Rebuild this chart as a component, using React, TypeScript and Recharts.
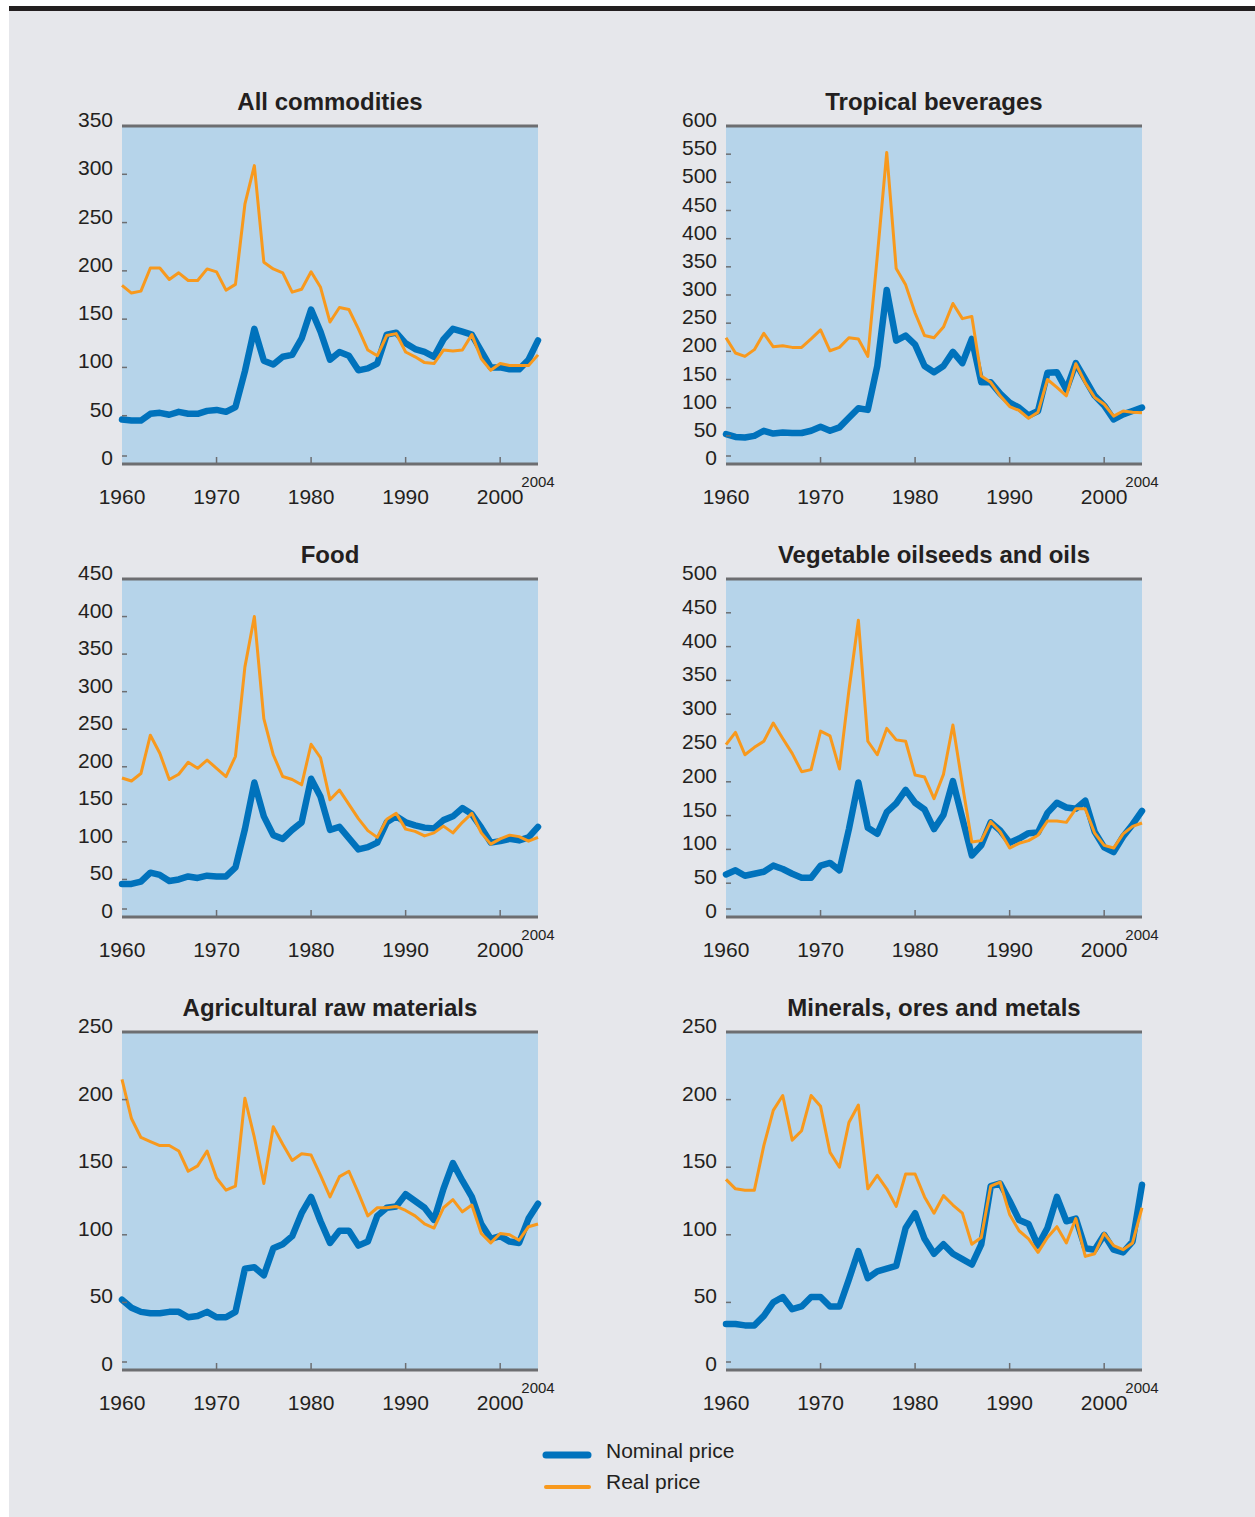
import React from "react";
import { LineChart, Line, XAxis, YAxis, CartesianGrid, ReferenceLine } from "recharts";

const YEARS = [
  1960, 1961, 1962, 1963, 1964, 1965, 1966, 1967, 1968, 1969,
  1970, 1971, 1972, 1973, 1974, 1975, 1976, 1977, 1978, 1979,
  1980, 1981, 1982, 1983, 1984, 1985, 1986, 1987, 1988, 1989,
  1990, 1991, 1992, 1993, 1994, 1995, 1996, 1997, 1998, 1999,
  2000, 2001, 2002, 2003, 2004,
];
const X_TICKS = [1960, 1970, 1980, 1990, 2000, 2004];

// All commodities
const ALL_NOMINAL = [
  46, 45, 45, 52, 53, 51, 54, 52, 52, 55,
  56, 54, 59, 96, 140, 107, 103, 111, 113, 130,
  160, 137, 108, 116, 112, 97, 99, 104, 134, 136,
  125, 119, 116, 111, 129, 140, 137, 134, 117, 100,
  100, 98, 98, 108, 128,
];
const ALL_REAL = [
  185, 177, 179, 203, 203, 191, 198, 190, 190, 202,
  199, 180, 186, 269, 309, 209, 202, 198, 178, 181,
  199, 183, 147, 162, 160, 140, 118, 112, 133, 135,
  116, 111, 105, 104, 118, 117, 118, 134, 109, 97,
  104, 102, 102, 102, 113,
];

// Tropical beverages
const BEV_NOMINAL = [
  53, 48, 47, 50, 59, 54, 56, 55, 55, 59,
  66, 59, 65, 82, 99, 96, 174, 309, 219, 228,
  212, 174, 163, 174, 199, 179, 222, 145, 145, 125,
  109, 100, 86, 94, 162, 163, 132, 179, 150, 121,
  104, 79, 88, 94, 100,
];
const BEV_REAL = [
  224, 197, 191, 203, 232, 208, 210, 207, 207, 222,
  238, 201, 207, 224, 222, 191, 368, 553, 347, 318,
  268, 228, 224, 243, 285, 258, 262, 156, 145, 121,
  102, 95, 81, 92, 150, 136, 121, 178, 144, 118,
  106, 85, 94, 92, 91,
];

// Food
const FOOD_NOMINAL = [
  44, 44, 47, 59, 56, 48, 50, 54, 52, 55,
  54, 54, 66, 117, 179, 134, 109, 104, 116, 126,
  184, 160, 116, 120, 105, 90, 93, 99, 126, 134,
  126, 122, 119, 118, 129, 134, 145, 137, 119, 99,
  101, 104, 102, 106, 120,
];
const FOOD_REAL = [
  185, 181, 191, 242, 218, 183, 190, 206, 198, 209,
  198, 187, 214, 333, 400, 264, 216, 187, 183, 176,
  230, 212, 156, 169, 150, 131, 115, 106, 130, 138,
  117, 114, 108, 112, 121, 112, 126, 138, 112, 97,
  104, 109, 107, 101, 106,
];

// Vegetable oilseeds and oils
const OIL_NOMINAL = [
  63, 69, 61, 64, 67, 76, 71, 64, 58, 58,
  76, 80, 69, 130, 199, 132, 123, 155, 168, 188,
  169, 159, 130, 151, 201, 146, 91, 106, 140, 128,
  110, 116, 124, 125, 154, 169, 162, 160, 172, 126,
  103, 96, 119, 137, 157,
];
const OIL_REAL = [
  255, 273, 240, 251, 260, 287, 264, 242, 215, 218,
  275, 268, 219, 335, 439, 260, 240, 279, 262, 260,
  210, 207, 175, 211, 284, 196, 111, 113, 141, 126,
  102, 109, 113, 121, 142, 142, 140, 160, 160, 124,
  106, 102, 123, 134, 139,
];

// Agricultural raw materials
const AGRI_NOMINAL = [
  52, 46, 43, 42, 42, 43, 43, 39, 40, 43,
  39, 39, 43, 75, 76, 70, 90, 93, 99, 116,
  128, 110, 94, 103, 103, 92, 95, 114, 120, 121,
  130, 125, 120, 111, 134, 153, 140, 128, 108, 97,
  99, 95, 94, 112, 123,
];
const AGRI_REAL = [
  215, 186, 172, 169, 166, 166, 162, 147, 151, 162,
  142, 133, 136, 201, 172, 138, 180, 167, 155, 160,
  159, 144, 128, 143, 147, 131, 114, 120, 120, 121,
  118, 114, 108, 105, 120, 126, 117, 122, 101, 94,
  101, 100, 96, 106, 108,
];

// Minerals, ores and metals
const MIN_NOMINAL = [
  34, 34, 33, 33, 40, 50, 54, 45, 47, 54,
  54, 47, 47, 67, 88, 68, 73, 75, 77, 105,
  116, 97, 86, 93, 86, 82, 78, 93, 136, 138,
  125, 111, 108, 92, 105, 128, 110, 112, 90, 89,
  100, 89, 87, 95, 137,
];
const MIN_REAL = [
  141, 134, 133, 133, 166, 192, 203, 170, 177, 203,
  195, 161, 150, 183, 196, 134, 144, 134, 121, 145,
  145, 128, 116, 129, 122, 116, 93, 98, 136, 139,
  115, 103, 97, 87, 98, 106, 94, 112, 84, 86,
  101, 92, 89, 94, 120,
];

const FONT = '"Liberation Sans", Arial, Helvetica, sans-serif';
const TEXT = "#231f20";
const AXIS = "#6d6e71";
const PLOT_BG = "#b6d4ea";
const PAGE_BG = "#e6e7eb";
const BLUE = "#0072bc";
const ORANGE = "#f8991d";

const PLOT_W = 416;
const PLOT_H = 338;
const Y_W = 70; // room for the y labels
const X_H = 50; // room for the x labels
const M = { top: 20, right: 40, bottom: 0, left: 0 };

const COL_X = [122, 726];
const ROW_Y = [126, 579, 1032];

const PANELS = [
  { title: "All commodities", nominal: ALL_NOMINAL, real: ALL_REAL, max: 350, col: 0, row: 0 },
  { title: "Tropical beverages", nominal: BEV_NOMINAL, real: BEV_REAL, max: 600, col: 1, row: 0 },
  { title: "Food", nominal: FOOD_NOMINAL, real: FOOD_REAL, max: 450, col: 0, row: 1 },
  { title: "Vegetable oilseeds and oils", nominal: OIL_NOMINAL, real: OIL_REAL, max: 500, col: 1, row: 1 },
  { title: "Agricultural raw materials", nominal: AGRI_NOMINAL, real: AGRI_REAL, max: 250, col: 0, row: 2 },
  { title: "Minerals, ores and metals", nominal: MIN_NOMINAL, real: MIN_REAL, max: 250, col: 1, row: 2 },
];

function YTick(props: any) {
  const { x, y, payload } = props;
  const v = payload.value;
  const ly = v === 0 ? y - 8 : y;
  return (
    <g>
      <line x1={x} x2={x + 5} y1={ly} y2={ly} stroke={AXIS} strokeWidth={1.5} />
      <text x={x - 9} y={y + 1} textAnchor="end" fontSize={21} fill={TEXT} fontFamily={FONT}>
        {v}
      </text>
    </g>
  );
}

function XTick(props: any) {
  const { x, y, payload } = props;
  const v = payload.value;
  if (v === 2004) {
    return (
      <text x={x} y={y + 23} textAnchor="middle" fontSize={15} fill={TEXT} fontFamily={FONT}>
        2004
      </text>
    );
  }
  return (
    <g>
      {v !== 1960 && <line x1={x} x2={x} y1={y - 1} y2={y - 7} stroke={AXIS} strokeWidth={1.5} />}
      <text x={x} y={y + 40} textAnchor="middle" fontSize={21} fill={TEXT} fontFamily={FONT}>
        {v}
      </text>
    </g>
  );
}

function Panel({ p }: { p: (typeof PANELS)[number] }) {
  const data = YEARS.map((year, i) => ({ year, nominal: p.nominal[i], real: p.real[i] }));
  const yTicks: number[] = [];
  for (let t = 0; t <= p.max; t += 50) yTicks.push(t);
  return (
    <div
      style={{
        position: "absolute",
        left: COL_X[p.col] - Y_W,
        top: ROW_Y[p.row] - M.top,
      }}
    >
      <LineChart
        width={Y_W + PLOT_W + M.right}
        height={M.top + PLOT_H + X_H}
        data={data}
        margin={M}
        style={{ overflow: "visible" }}
      >
        <CartesianGrid horizontal={false} vertical={false} fill={PLOT_BG} fillOpacity={1} />
        <XAxis
          dataKey="year"
          type="number"
          domain={[1960, 2004]}
          ticks={X_TICKS}
          interval={0}
          height={X_H}
          tickSize={0}
          tickMargin={0}
          tickLine={false}
          axisLine={{ stroke: AXIS, strokeWidth: 3 }}
          tick={XTick}
        />
        <YAxis
          domain={[0, p.max]}
          ticks={yTicks}
          interval={0}
          width={Y_W}
          tickSize={0}
          tickMargin={0}
          tickLine={false}
          axisLine={false}
          tick={YTick}
        />
        <ReferenceLine y={p.max} stroke={AXIS} strokeWidth={3} />
        <Line
          type="linear"
          dataKey="nominal"
          stroke={BLUE}
          strokeWidth={6.5}
          strokeLinecap="round"
          strokeLinejoin="round"
          dot={false}
          isAnimationActive={false}
        />
        <Line
          type="linear"
          dataKey="real"
          stroke={ORANGE}
          strokeWidth={3}
          strokeLinejoin="round"
          dot={false}
          isAnimationActive={false}
        />
      </LineChart>
    </div>
  );
}

export default function App() {
  return (
    <div style={{ position: "absolute", left: 0, top: 0, width: 1255, height: 1517, background: "#fff" }}>
      <svg width={1255} height={1517} style={{ position: "absolute", left: 0, top: 0 }}>
        <rect x={9} y={6} width={1246} height={5} fill="#231f20" />
        <rect x={9} y={11} width={1246} height={1506} fill={PAGE_BG} />
        {PANELS.map((p) => (
          <text
            key={p.title}
            x={COL_X[p.col] + PLOT_W / 2}
            y={ROW_Y[p.row] - 16}
            textAnchor="middle"
            fontSize={24}
            fontWeight="bold"
            fill={TEXT}
            fontFamily={FONT}
          >
            {p.title}
          </text>
        ))}
        <line x1={546} x2={588} y1={1455} y2={1455} stroke={BLUE} strokeWidth={7} strokeLinecap="round" />
        <line x1={546} x2={589} y1={1487} y2={1487} stroke={ORANGE} strokeWidth={4} strokeLinecap="round" />
        <text x={606} y={1458} fontSize={21} fill={TEXT} fontFamily={FONT}>
          Nominal price
        </text>
        <text x={606} y={1489} fontSize={21} fill={TEXT} fontFamily={FONT}>
          Real price
        </text>
      </svg>
      {PANELS.map((p) => (
        <Panel key={p.title} p={p} />
      ))}
    </div>
  );
}
